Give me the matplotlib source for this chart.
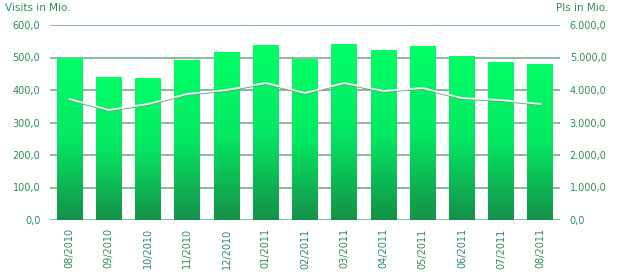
import matplotlib
matplotlib.use("Agg")
import matplotlib.pyplot as plt
import numpy as np
from matplotlib.colors import LinearSegmentedColormap

months = ["08/2010", "09/2010", "10/2010", "11/2010", "12/2010", "01/2011", "02/2011",
          "03/2011", "04/2011", "05/2011", "06/2011", "07/2011", "08/2011"]
visits = [498, 437, 434, 492, 516, 538, 495, 541, 523, 535, 502, 486, 477]
pis = [3720, 3385, 3570, 3877, 4000, 4215, 3908, 4215, 3970, 4060, 3750, 3690, 3570]
left_ticks = [0, 100, 200, 300, 400, 500, 600]
right_ticks = [0, 1000, 2000, 3000, 4000, 5000, 6000]

txt = "#2e8b57"
grid = "#6aa884"

def fmt_de(v):
    s = f"{v:,.1f}"
    return s.replace(",", "X").replace(".", ",").replace("X", ".")

fig = plt.figure(figsize=(6.2, 2.8), dpi=100)
ax = fig.add_axes([50/620, 60/280, 510/620, 195/280])
ax.set_xlim(-0.5, len(months) - 0.5)
ax.set_ylim(0, 600)
for s in ax.spines.values():
    s.set_visible(False)
ax.tick_params(length=0)
for t in left_ticks:
    ax.axhline(t, color=grid, lw=1.1, zorder=1)

cmap = LinearSegmentedColormap.from_list("g", ["#159049", "#04e863", "#00ff66"])
grad = np.linspace(0, 1, 256).reshape(-1, 1)
w = 0.66
for i, v in enumerate(visits):
    ax.imshow(grad, cmap=cmap, origin="lower", aspect="auto",
              extent=(i - w/2, i + w/2, 0, v), zorder=2, interpolation="bilinear")
ax.set_xlim(-0.5, len(months) - 0.5)
ax.set_ylim(0, 600)

ax.set_yticks(left_ticks)
ax.set_yticklabels([fmt_de(t) for t in left_ticks], color=txt, fontsize=7)
ax.set_xticks(range(len(months)))
ax.set_xticklabels(months, rotation=90, color=txt, fontsize=7)
ax.tick_params(axis="x", pad=6)
ax.tick_params(axis="y", pad=7)

ax2 = ax.twinx()
ax2.set_ylim(0, 6000)
for s in ax2.spines.values():
    s.set_visible(False)
ax2.tick_params(length=0, pad=7)
ax2.set_yticks(right_ticks)
ax2.set_yticklabels([fmt_de(t) for t in right_ticks], color=txt, fontsize=7)
x = np.arange(len(months))
ax2.plot(x, np.array(pis) - 25, color="#5f9c78", lw=1.3, zorder=3)
ax2.plot(x, pis, color="#f2fff6", lw=1.3, zorder=4)

fig.text(5/620, 1 - 8/280, "Visits in Mio.", color=txt, fontsize=7.5, ha="left", va="center")
fig.text(608/620, 1 - 8/280, "PIs in Mio.", color=txt, fontsize=7.5, ha="right", va="center")

fig.savefig("out.png", dpi=100)
